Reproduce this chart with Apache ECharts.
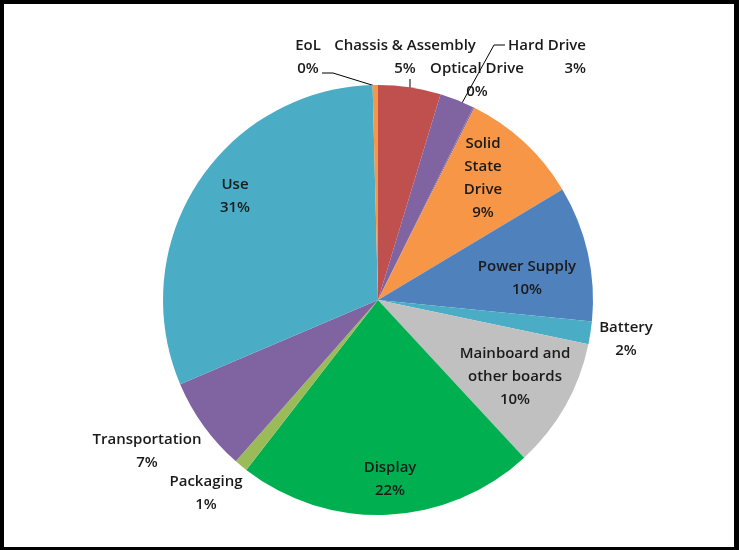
<!DOCTYPE html>
<html><head><meta charset="utf-8">
<script src="https://cdn.jsdelivr.net/npm/echarts@6/dist/echarts.min.js"></script>
<style>
html,body{margin:0;padding:0;background:#fff;}
#frame{position:absolute;left:0;top:0;width:739px;height:550px;box-sizing:border-box;border:4px solid #000;border-right-width:5px;border-bottom-width:3px;}
#c{position:absolute;left:0;top:0;width:739px;height:550px;}
</style></head>
<body>
<div id="c"></div>
<div id="frame"></div>
<script>
var categories = ['Chassis & Assembly','Hard Drive','Optical Drive','Solid\nState\nDrive','Power Supply','Battery','Mainboard and\nother boards','Display','Packaging','Transportation','Use','EoL'];
var values = [4.7, 2.6, 0.1, 9.0, 10.2, 1.7, 9.8, 22.4, 1.0, 7.1, 31.0, 0.4];
var colors = ['#C0504D','#8064A2','#8064A2','#F79646','#4F81BD','#4BACC6','#C0C0C0','#00B050','#9BBB59','#8064A2','#4BACC6','#F79646'];

// label placement (layout only)
var labelPos = {
  0:{x:405,y:57,lines:[[410,79],[410,88]]},
  1:{x:586,y:57,align:'right',lines:[[505,45],[494,45],[462,103]]},
  2:{x:477,y:80},
  3:{x:483,y:178},
  4:{x:527,y:278},
  5:{x:626,y:339},
  6:{x:515,y:377},
  7:{x:390,y:479},
  8:{x:206,y:493},
  9:{x:147,y:451},
  10:{x:235,y:196},
  11:{x:308,y:57,lines:[[322,73],[333,73],[375,86]]}
};

var data = categories.map(function(n,i){
  var item = {name:n, value:values[i], itemStyle:{color:colors[i]}};
  var lp = labelPos[i];
  item.labelLine = {show: !!lp.lines, lineStyle:{color:'#000',width:1}};
  return item;
});

var chart = echarts.init(document.getElementById('c'));
chart.setOption({
  animation:false,
  series:[{
    type:'pie',
    center:[378,300],
    radius:[0,215],
    startAngle:90,
    clockwise:true,
    minAngle:0,
    avoidLabelOverlap:false,
    data:data,
    itemStyle:{borderWidth:0},
    label:{
      show:true,
      position:'outside',
      formatter:function(p){
        return p.name + '\n' + Math.round(p.percent) + '%';
      },
      fontFamily:'"Open Sans", sans-serif',
      fontWeight:600,
      fontSize:15,
      lineHeight:23,
      color:'#1a1a1a',
      align:'center'
    },
    labelLine:{show:false},
    labelLayout:function(params){
      var lp = labelPos[params.dataIndex];
      var r = {x:lp.x, y:lp.y, align:lp.align||'center', verticalAlign:'middle'};
      if (lp.lines) r.labelLinePoints = lp.lines.length===2 ? [lp.lines[0], lp.lines[0], lp.lines[1]] : lp.lines;
      return r;
    }
  }]
});
</script>
</body></html>
